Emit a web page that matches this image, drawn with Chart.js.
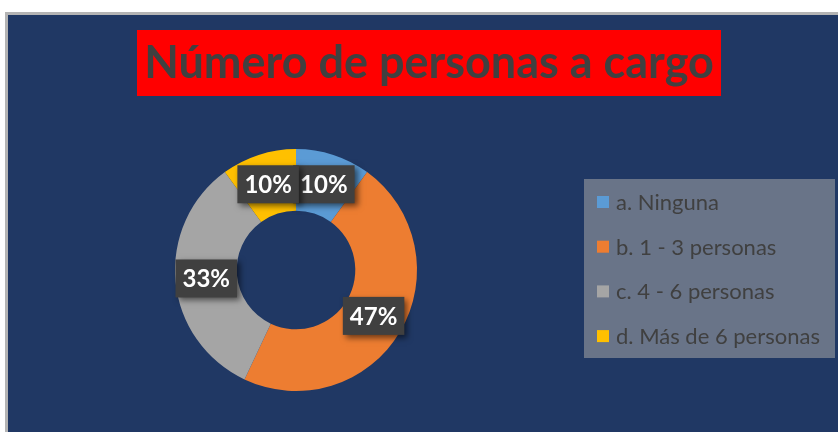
<!DOCTYPE html>
<html>
<head>
<meta charset="utf-8">
<script src="https://cdn.jsdelivr.net/npm/chart.js@4"></script>
<style>
  html, body { margin: 0; padding: 0; background: #fff; }
  #wrap { width: 838px; height: 432px; }
</style>
</head>
<body>
<div id="wrap"><canvas id="graficoDona" width="838" height="432"></canvas></div>
<script>
const titulo = 'Número de personas a cargo';
const categorias = ['a. Ninguna', 'b. 1 - 3 personas', 'c. 4 - 6 personas', 'd. Más de 6 personas'];
const porcentajes = [10, 47, 33, 10];
const colores = ['#5B9BD5', '#ED7D31', '#A5A5A5', '#FFC000'];

const fondo = {
  id: 'fondo',
  beforeDraw(chart) {
    const c = chart.ctx;
    c.save();
    c.fillStyle = '#fff';
    c.fillRect(0, 0, chart.width, chart.height);
    c.fillStyle = '#b4b4b4';
    c.fillRect(5, 12, chart.width - 5, chart.height - 12);
    c.fillStyle = '#203864';
    c.fillRect(8, 15, chart.width - 8, chart.height - 15);

    // title box
    c.fillStyle = '#ff0000';
    c.fillRect(137, 30, 584, 66);
    c.fillStyle = '#404040';
    c.font = 'bold 45px Lato';
    c.textAlign = 'center';
    c.textBaseline = 'middle';
    c.fillText(titulo, 429, 63);

    // legend
    c.fillStyle = 'rgba(166,166,166,0.55)';
    c.fillRect(584, 179, 251, 179);
    c.font = '22px Lato';
    c.textAlign = 'left';
    categorias.forEach((cat, i) => {
      const y = 202 + i * 44.7;
      c.fillStyle = colores[i];
      c.fillRect(597, y - 6, 12, 12);
      c.fillStyle = '#404040';
      c.fillText(cat, 616, y + 1);
    });
    c.restore();
  }
};

const etiquetas = {
  id: 'etiquetas',
  afterDatasetsDraw(chart) {
    const c = chart.ctx;
    const meta = chart.getDatasetMeta(0);
    c.save();
    c.font = 'bold 24px Lato';
    c.textAlign = 'center';
    c.textBaseline = 'middle';
    meta.data.forEach((arc, i) => {
      const p = arc.tooltipPosition();
      const txt = porcentajes[i] + '%';
      const w = c.measureText(txt).width + 14;
      const h = 38;
      c.save();
      c.shadowColor = 'rgba(0,0,0,0.55)';
      c.shadowBlur = 6;
      c.shadowOffsetX = 3;
      c.shadowOffsetY = 3;
      c.fillStyle = '#404040';
      c.fillRect(p.x - w / 2, p.y - h / 2, w, h);
      c.restore();
      c.fillStyle = '#fff';
      c.fillText(txt, p.x, p.y + 1);
    });
    c.restore();
  }
};

new Chart(document.getElementById('graficoDona'), {
  type: 'doughnut',
  data: {
    labels: categorias,
    datasets: [{
      data: porcentajes,
      backgroundColor: colores,
      borderWidth: 0
    }]
  },
  options: {
    responsive: false,
    animation: false,
    cutout: '49%',
    layout: { padding: { left: 175, right: 421, top: 149, bottom: 41 } },
    plugins: {
      legend: { display: false },
      title: { display: false },
      tooltip: { enabled: false }
    }
  },
  plugins: [fondo, etiquetas]
});
</script>
</body>
</html>
